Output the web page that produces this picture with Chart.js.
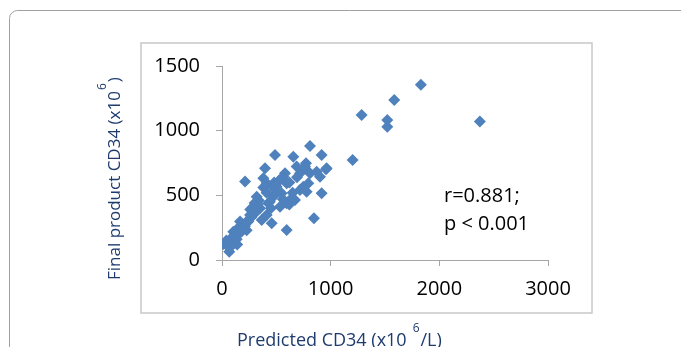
<!DOCTYPE html>
<html>
<head>
<meta charset="utf-8">
<script src="https://cdn.jsdelivr.net/npm/chart.js@4/dist/chart.umd.min.js"></script>
<style>
  html, body { margin: 0; padding: 0; background: #fff; }
  canvas { display: block; }
</style>
</head>
<body>
<canvas id="cd34Chart" width="681" height="347"></canvas>
<script>
// predicted CD34 (x10^6/L) and final product CD34 (x10^6)
const predictedCD34 = [
    1830, 1585, 1285, 1521, 1521, 2373, 1202, 810, 917, 957, 917, 846,
    488, 656, 212, 396, 595, 902, 773, 760, 718, 690, 748, 779, 672, 580,
    12, 67, 74, 100, 135, 160, 120, 196, 180, 227,
    242, 210, 258, 288, 270, 319, 300, 350, 365, 340,
    411, 457, 426, 380, 472, 503, 534, 564, 595, 549,
    595, 534, 380, 411, 641, 687, 764, 810, 718, 794,
    871, 963, 104, 166, 150, 230, 260, 300, 330, 440,
    470, 500, 520, 620, 450, 480, 410, 560, 620, 650,
    40, 90, 140, 60
];
const finalCD34 = [
    1355, 1237, 1121, 1083, 1031, 1070, 773, 882, 812, 701, 516, 322,
    812, 799, 606, 709, 232, 644, 748, 710, 670, 640, 567, 528, 464, 670,
    124, 64, 160, 130, 160, 206, 180, 258, 220, 230,
    297, 260, 348, 412, 330, 490, 360, 400, 309, 460,
    348, 284, 438, 632, 490, 567, 619, 645, 593, 516,
    438, 412, 560, 593, 477, 722, 722, 670, 541, 593,
    683, 709, 219, 297, 250, 300, 390, 440, 430, 450,
    560, 520, 610, 600, 400, 600, 520, 470, 430, 520,
    150, 110, 120, 100
];
const xTicks = [0, 1000, 2000, 3000];
const yTicks = [0, 500, 1000, 1500];
const statLines = ['r=0.881;', 'p < 0.001'];

const FONT = '"Open Sans", "Liberation Sans", sans-serif';
const TITLE_COLOR = '#1F3B6E';
const AXIS_COLOR = '#A6A6A6';

const points = predictedCD34.map((x, i) => ({ x: x, y: finalCD34[i] }));

// draws "text" + superscript + "tail" starting at (0,0) on the current transform
function drawSupText(ctx, text, sup, tail, gap, size) {
    ctx.font = size + 'px ' + FONT;
    ctx.fillText(text, 0, 0);
    let w = ctx.measureText(text).width + gap;
    ctx.font = '12px ' + FONT;
    ctx.fillText(sup, w, -14);
    w += ctx.measureText(sup).width + 1;
    ctx.font = size + 'px ' + FONT;
    ctx.fillText(tail, w, 0);
}

const framePlugin = {
    id: 'frame',
    beforeDraw: (chart) => {
        const ctx = chart.ctx;
        ctx.save();
        // outer rounded panel
        ctx.strokeStyle = '#A0A0A0';
        ctx.lineWidth = 1;
        ctx.beginPath();
        ctx.roundRect(9.5, 10.5, 680, 360, 8);
        ctx.stroke();
        // inner chart box
        ctx.strokeStyle = '#C8C8C8';
        ctx.lineWidth = 1.5;
        ctx.strokeRect(141, 43, 451, 270);
        ctx.restore();
    },
    afterDraw: (chart) => {
        const ctx = chart.ctx;
        ctx.save();
        ctx.fillStyle = TITLE_COLOR;
        ctx.textBaseline = 'alphabetic';
        ctx.textAlign = 'left';

        // x axis title
        ctx.save();
        ctx.translate(237, 346);
        drawSupText(ctx, 'Predicted CD34 (x10', '6', '/L)', 6, 18);
        ctx.restore();

        // y axis title
        ctx.save();
        ctx.translate(120, 280);
        ctx.rotate(-Math.PI / 2);
        drawSupText(ctx, 'Final product CD34 (x10', '6', ')', 1, 17);
        ctx.restore();

        // correlation note
        ctx.fillStyle = '#000';
        ctx.font = '20px ' + FONT;
        statLines.forEach((line, i) => {
            ctx.fillText(line, 444, 202 + i * 28);
        });
        ctx.restore();
    },
};

new Chart(document.getElementById('cd34Chart'), {
    type: 'scatter',
    data: {
        datasets: [{
            data: points,
            pointStyle: 'rectRot',
            pointRadius: 6,
            pointBorderWidth: 0,
            backgroundColor: '#4F81BD',
            borderColor: '#4F81BD',
        }],
    },
    options: {
        responsive: false,
        animation: false,
        devicePixelRatio: 1,
        layout: {
            padding: { left: 0, right: 133, top: 66, bottom: 0 },
        },
        plugins: {
            legend: { display: false },
            tooltip: { enabled: false },
        },
        scales: {
            x: {
                type: 'linear',
                min: 0,
                max: 3000,
                afterFit: (scale) => { scale.height = 87; },
                afterBuildTicks: (scale) => { scale.ticks = xTicks.map(v => ({ value: v })); },
                ticks: {
                    color: '#000',
                    font: { family: FONT, size: 20 },
                    padding: 11,
                    maxRotation: 0,
                    callback: (value) => String(value),
                },
                grid: {
                    drawOnChartArea: false,
                    drawTicks: true,
                    tickLength: 6,
                    color: AXIS_COLOR,
                },
                border: { color: AXIS_COLOR, width: 1 },
            },
            y: {
                type: 'linear',
                min: 0,
                max: 1500,
                afterFit: (scale) => { scale.width = 222; },
                afterBuildTicks: (scale) => { scale.ticks = yTicks.map(v => ({ value: v })); },
                ticks: {
                    color: '#000',
                    font: { family: FONT, size: 20 },
                    padding: 16,
                    callback: (value) => String(value),
                },
                grid: {
                    drawOnChartArea: false,
                    drawTicks: true,
                    tickLength: 6,
                    color: AXIS_COLOR,
                },
                border: { color: AXIS_COLOR, width: 1 },
            },
        },
    },
    plugins: [framePlugin],
});
</script>
</body>
</html>
